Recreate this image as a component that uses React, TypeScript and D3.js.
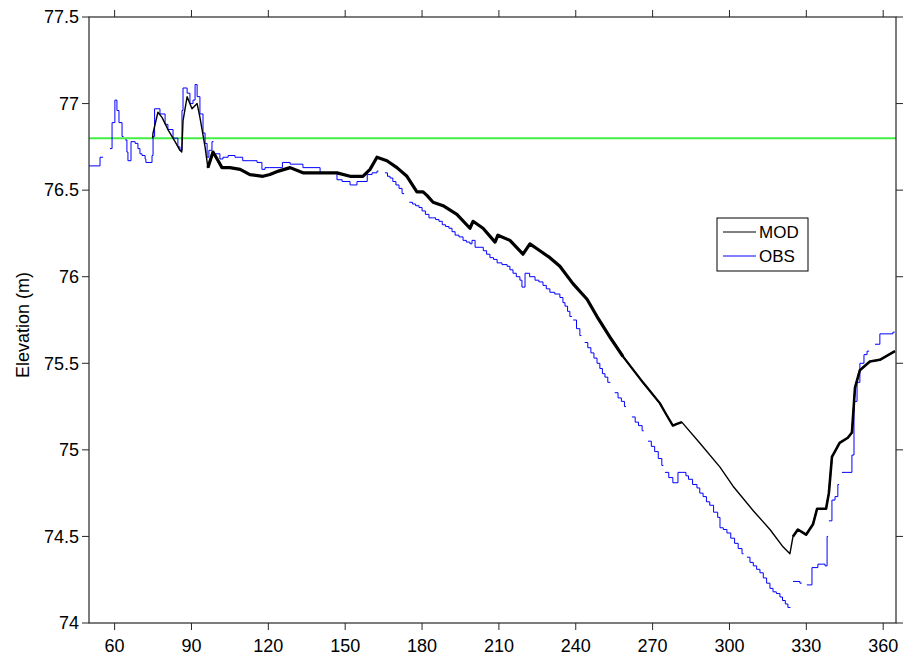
import React from "react";
import * as d3 from "d3";

// ---- Data ----
// Model (MOD) series: day of year, elevation (m)
const MOD_DAY = [74.8, 75.0, 76.9, 78.5, 80.8, 83.6, 85.5, 86.2, 86.7, 88.3, 90.2, 92.2, 93.3, 95.3, 96.4, 98.4, 100.4, 101.9, 105, 109, 112.8, 117.9, 120.6, 124, 128.5, 133.5, 140.2, 146.8, 151.9, 156.9, 159.7, 162.4, 166.3, 170.2, 174.1, 178, 180.4, 181.9, 184.3, 188.2, 193.6, 198.7, 199.9, 203.8, 208.5, 209.6, 214.3, 219.4, 222.1, 226, 229.9, 233.8, 238.9, 244.4, 248.3, 253.4, 258.4, 266.2, 272.8, 275.5, 277.9, 279.5, 281.4, 288.4, 296.3, 301.4, 309.2, 315.8, 320.9, 323.6, 324.8, 326.7, 329.9, 332.6, 334.2, 337.7, 338.8, 340, 343, 346.2, 347.8, 349, 350.9, 354.8, 358.7, 364.6];
const MOD_VAL = [76.80, 76.83, 76.95, 76.92, 76.85, 76.78, 76.73, 76.72, 76.90, 77.04, 76.97, 77.00, 76.92, 76.75, 76.63, 76.72, 76.67, 76.63, 76.63, 76.62, 76.59, 76.58, 76.59, 76.61, 76.63, 76.60, 76.60, 76.60, 76.58, 76.58, 76.62, 76.69, 76.67, 76.63, 76.58, 76.49, 76.49, 76.47, 76.43, 76.41, 76.36, 76.28, 76.32, 76.28, 76.20, 76.24, 76.21, 76.13, 76.19, 76.15, 76.11, 76.06, 75.96, 75.87, 75.77, 75.65, 75.54, 75.39, 75.27, 75.20, 75.14, 75.15, 75.16, 75.04, 74.90, 74.79, 74.65, 74.54, 74.44, 74.40, 74.50, 74.54, 74.51, 74.57, 74.66, 74.66, 74.75, 74.96, 75.04, 75.07, 75.10, 75.36, 75.46, 75.51, 75.52, 75.57];

// Observed (OBS) series: stair steps; null marks a gap in the record
const OBS_DAY = [50, 54.3, 55.5, 58.2, 59.0, 60.1, 60.9, 61.7, 62.9, 63.5, 64.1, 64.8, 65.2, 66.4, 68, 69.1, 69.9, 70.7, 71.9, 72.2, 74.6, 75.0, 75.6, 77.7, 79.7, 80.8, 82.8, 84.7, 85.5, 86.3, 86.7, 88.3, 89.4, 90.6, 91.4, 92.2, 93.3, 94.5, 95.3, 96.1, 96.8, 98, 98.6,
  99.4, 101.1, 102.3, 104.3, 107, 110, 112.8, 115.6, 117.5, 118.7, 120.6, 125.5, 128.5, 133.5, 140.2, 144, 146.8, 148.8, 151.9, 154.6, 156.6, 158.6, 160.5, 162.4, 163,
  165.5, 166.5, 167.5, 168.6, 169.8, 171, 172.2, 173,
  175, 176.3, 177.5, 178.8, 180, 181.3, 182.7, 184, 185.3, 186.6, 187.9, 189.2, 190.5, 191.7, 192.9, 194.4, 196, 197.3, 198.7, 199.5, 200.7, 202.6, 203.9, 205.2, 206.5, 207.9, 209.3, 211.2, 213.2, 214.3, 215.5, 216.8, 218.2, 219, 220.2, 222, 224.1, 225.6, 227.2, 228.5, 229.9, 231.8, 233.8, 235, 235.8, 236.8, 237.7, 238.5,
  239, 240.3, 241.6, 242.2,
  243.5, 244.7, 245.9, 247.1, 248.3, 249.4, 250.4, 251.4, 252.5, 253.5,
  255.2, 256.5, 257.8, 259, 259.6,
  261.9, 263.2, 264.5, 265.9, 266.5,
  268.2, 269.5, 270.8, 272.2, 273.6, 274.2,
  274.8, 276.3, 277.9, 279.9, 281.8, 283, 284, 285.6, 287.3, 288.4, 289.7, 291, 292.3, 293.8, 295.4, 296.3, 297.6, 299, 300.5, 302, 303.4, 304.9, 305.5,
  306.8, 308, 309.3, 310.6, 311.9, 313.2, 314.5, 315.8, 317, 318.3, 319.7, 320.7, 321.8, 322.8, 323.8,
  324.8, 327.5, 328.2, 330.2, 332.2, 334.5, 337.3, 338.1, 338.5, 338.8, 340, 341.2, 342.3, 342.8, 343.9, 345.9, 347.8, 348.6, 349.8, 350.9, 352.5, 353.7, 354.5, 356.8, 358.7, 363.8, 364.5];
const OBS_VAL: (number | null)[] = [76.64, 76.69, null, 76.74, 76.89, 77.02, 76.96, 76.89, 76.81, null, 76.79, 76.72, 76.67, 76.78, 76.77, 76.74, 76.71, 76.70, 76.68, 76.66, 76.70, 76.81, 76.97, 76.94, 76.88, 76.85, 76.80, 76.75, 76.73, 76.96, 77.09, 77.06, 77.00, 77.02, 77.11, 77.04, 76.94, 76.83, 76.77, 76.69, 76.73, 76.78, null,
  76.71, 76.68, 76.69, 76.70, 76.69, 76.67, 76.67, 76.66, 76.62, 76.63, 76.63, 76.66, 76.65, 76.63, 76.60, 76.60, 76.56, 76.55, 76.53, 76.55, 76.55, 76.59, 76.60, 76.61, null,
  76.60, 76.58, 76.57, 76.55, 76.53, 76.51, 76.48, null,
  76.43, 76.42, 76.41, 76.40, 76.38, 76.36, 76.34, 76.34, 76.33, 76.32, 76.30, 76.29, 76.28, 76.26, 76.24, 76.23, 76.21, 76.20, 76.19, 76.21, 76.17, 76.17, 76.15, 76.13, 76.11, 76.10, 76.08, 76.07, 76.06, 76.04, 76.02, 76.00, 75.98, 75.94, 76.02, 76.00, 75.98, 75.97, 75.95, 75.93, 75.91, 75.90, 75.88, 75.85, 75.83, 75.80, 75.77, null,
  75.75, 75.70, 75.66, null,
  75.62, 75.59, 75.56, 75.53, 75.50, 75.47, 75.44, 75.42, 75.39, null,
  75.33, 75.30, 75.28, 75.25, null,
  75.19, 75.16, 75.14, 75.11, null,
  75.05, 75.02, 74.99, 74.95, 74.91, null,
  74.87, 74.84, 74.81, 74.87, 74.87, 74.85, 74.83, 74.80, 74.78, 74.75, 74.73, 74.70, 74.68, 74.64, 74.61, 74.55, 74.54, 74.52, 74.49, 74.46, 74.43, 74.40, null,
  74.38, 74.35, 74.33, 74.31, 74.29, 74.26, 74.23, 74.20, 74.18, 74.17, 74.15, 74.13, 74.11, 74.09, null,
  74.24, 74.23, null, 74.22, 74.32, 74.34, 74.33, 74.50, null, 74.59, 74.71, 74.73, 74.80, null, 74.87, 74.87, 74.97, 75.28, 75.39, 75.50, 75.55, 75.57, null, 75.61, 75.67, 75.68, null];

const THRESHOLD = 76.8;
const X_TICKS = [60, 90, 120, 150, 180, 210, 240, 270, 300, 330, 360];
const Y_TICKS = [74, 74.5, 75, 75.5, 76, 76.5, 77, 77.5];
const Y_LABELS = ["74", "74.5", "75", "75.5", "76", "76.5", "77", "77.5"];
const SERIES_NAMES = ["MOD", "OBS"];

// ---- Layout ----
const W = 904, H = 659;
const L = 89, R = 896, T = 17, B = 623;
const FONT = "'Liberation Sans', Arial, Helvetica, sans-serif";

export default function App() {
  const x = d3.scaleLinear().domain([50, 365]).range([L, R]);
  const y = d3.scaleLinear().domain([74, 77.5]).range([B, T]);

  type P = { d: number; v: number | null };
  const mod: P[] = MOD_DAY.map((d, i) => ({ d, v: MOD_VAL[i] }));

  // Build stair points with gaps: a null closes the previous step at that day.
  const obs: P[] = [];
  let prev: number | null = null;
  OBS_DAY.forEach((d, i) => {
    const v = OBS_VAL[i];
    if (v === null) {
      if (prev !== null) obs.push({ d, v: prev });
      obs.push({ d, v: null });
    } else {
      obs.push({ d, v });
    }
    prev = v;
  });

  const line = d3
    .line<P>()
    .defined((p) => p.v !== null)
    .x((p) => x(p.d))
    .y((p) => y(p.v as number));
  const stairs = d3
    .line<P>()
    .defined((p) => p.v !== null)
    .x((p) => x(p.d))
    .y((p) => y(p.v as number))
    .curve(d3.curveStepAfter);

  const modThickA = mod.filter((p) => p.d >= 96 && p.d <= 259);
  const modMid = mod.filter((p) => p.d >= 253 && p.d <= 282);
  const modThickB = mod.filter((p) => p.d >= 324);

  const axisColor = "#262626";
  const tickLen = 7;

  return (
    <svg
      width={W}
      height={H}
      style={{ position: "absolute", left: 0, top: 0, background: "#fff" }}
      fontFamily={FONT}
    >
      <rect x={0} y={0} width={W} height={H} fill="#fff" />
      <defs>
        <clipPath id="plot">
          <rect x={L} y={T} width={R - L} height={B - T} />
        </clipPath>
      </defs>

      <g clipPath="url(#plot)">
        <line x1={x(50)} x2={x(365)} y1={y(THRESHOLD)} y2={y(THRESHOLD)} stroke="#44ee44" strokeWidth={2} />
        <path d={stairs(obs) || ""} fill="none" stroke="#0000ff" strokeWidth={1} />
        <path d={line(mod) || ""} fill="none" stroke="#000" strokeWidth={1.4} strokeLinejoin="round" />
        <path d={line(modMid) || ""} fill="none" stroke="#000" strokeWidth={2.3} strokeLinejoin="round" />
        <path d={line(modThickA) || ""} fill="none" stroke="#000" strokeWidth={3.2} strokeLinejoin="round" />
        <path d={line(modThickB) || ""} fill="none" stroke="#000" strokeWidth={2.6} strokeLinejoin="round" />
      </g>

      {/* axes box */}
      <rect x={L} y={T} width={R - L} height={B - T} fill="none" stroke={axisColor} strokeWidth={1.2} />

      {/* x ticks */}
      {X_TICKS.map((t) => (
        <g key={"x" + t}>
          <line x1={x(t)} x2={x(t)} y1={B} y2={B + tickLen} stroke={axisColor} strokeWidth={1} />
          <line x1={x(t)} x2={x(t)} y1={T} y2={T - tickLen} stroke={axisColor} strokeWidth={1} />
          <text x={x(t)} y={652} textAnchor="middle" fontSize={18} fill="#000">
            {t}
          </text>
        </g>
      ))}

      {/* y ticks */}
      {Y_TICKS.map((t, i) => (
        <g key={"y" + t}>
          <line x1={L - tickLen} x2={L} y1={y(t)} y2={y(t)} stroke={axisColor} strokeWidth={1} />
          <line x1={R} x2={R + tickLen} y1={y(t)} y2={y(t)} stroke={axisColor} strokeWidth={1} />
          <text x={79} y={y(t)} dy="0.35em" textAnchor="end" fontSize={18} fill="#000">
            {Y_LABELS[i]}
          </text>
        </g>
      ))}

      <text
        transform={`translate(29,325) rotate(-90)`}
        textAnchor="middle"
        fontSize={18}
        fill="#000"
      >
        Elevation (m)
      </text>

      {/* legend */}
      <g>
        <rect x={717} y={218} width={91} height={53} fill="#fff" stroke="#000" strokeWidth={1} />
        <line x1={723} x2={756} y1={232} y2={232} stroke="#000" strokeWidth={1} />
        <text x={759} y={232} dy="0.35em" fontSize={17} fill="#000">
          {SERIES_NAMES[0]}
        </text>
        <line x1={723} x2={756} y1={256} y2={256} stroke="#0000ff" strokeWidth={1} />
        <text x={759} y={256} dy="0.35em" fontSize={17} fill="#000">
          {SERIES_NAMES[1]}
        </text>
      </g>
    </svg>
  );
}
